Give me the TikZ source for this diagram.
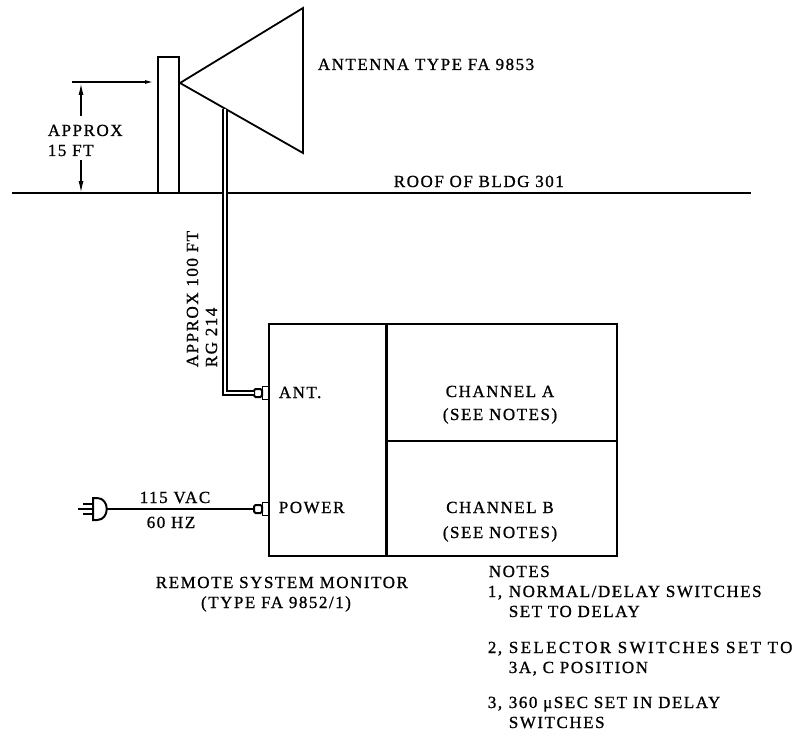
\documentclass[tikz,border=0pt]{standalone}
\usepackage{fontspec}
\setmainfont{Liberation Serif}
\newfontfamily\typ[LetterSpace=9,FakeBold=1]{Liberation Serif}
\usetikzlibrary{arrows.meta}
\begin{document}
\begin{tikzpicture}[x=1pt,y=-1pt,line width=1.7pt,line join=miter,
  lbl/.style={font=\typ\fontsize{17}{20}\selectfont,inner sep=0pt},
  dimarrow/.style={-{Latex[length=12pt,width=5pt]},line width=1.4pt},
  cable/.style={double,double distance=2.4pt,line width=1.5pt},
  jack/.pic={
    \draw[line width=2pt,rounded corners=1.5pt] (-14,-4) rectangle (-6,4);
    \draw[line width=1.8pt] (0,-6.5) -- (-5.5,-6.5) -- (-5.5,6.5) -- (0,6.5);
  }]
\useasboundingbox (0,0) rectangle (806,749);

% roof
\coordinate (roofL) at (12,193);
\coordinate (roofR) at (751,193);
\draw (roofL) -- (roofR);

% post and horn antenna
\coordinate (postBL) at (158,193);
\coordinate (postTL) at (158,57);
\coordinate (postTR) at (179,57);
\coordinate (postBR) at (179,193);
\draw[line width=1.6pt] (postBL) -- (postTL) -- (postTR) -- (postBR);
\draw[line width=2.4pt] ([xshift=-0.6pt]postTL) -- ([xshift=0.6pt]postTR);
\coordinate (apex) at (180,83);
\coordinate (hornT) at (303,8);
\coordinate (hornB) at (303,153);
\draw[line width=1.8pt] (apex) -- (hornT) -- (hornB) -- cycle;

% height dimension
\coordinate (dimL) at (72,82);
\coordinate (dimR) at (153,82);
\draw[-{Latex[length=8pt,width=4pt]},line width=1.2pt] (dimL) -- (dimR);
\coordinate (dimTop) at (81,83);
\coordinate (dimBot) at (81,193);
\coordinate (dimA) at (81,116);
\coordinate (dimB) at (81,160);
\draw[dimarrow] (dimA) -- (dimTop);
\draw[dimarrow] (dimB) -- (dimBot);
\node[lbl,anchor=base west] (approx) at (47,136) {APPROX};
\node[lbl,anchor=base west] (fifteen) at (47,156) {15 FT};

\node[lbl,anchor=base west] (antlbl) at (317,70) {ANTENNA TYPE FA 9853};
\node[lbl,anchor=base west] (rooflbl) at (393,187) {ROOF OF BLDG 301};

% monitor
\node[draw,anchor=north west,minimum width=117pt,minimum height=232pt,inner sep=0pt] (mon) at (268,323) {};
\node[draw,anchor=north west,minimum width=231pt,minimum height=117pt,inner sep=0pt] (chA) at (385,323) {};
\node[draw,anchor=north west,minimum width=231pt,minimum height=115pt,inner sep=0pt] (chB) at (385,440) {};
\draw[line width=3.2pt] (mon.north east) -- (mon.south east);

\node[lbl,anchor=base] (chAa) at (500,397) {CHANNEL A};
\node[lbl,anchor=base] (chAb) at (500,420) {(SEE NOTES)};
\node[lbl,anchor=base] (chBa) at (500,513) {CHANNEL B};
\node[lbl,anchor=base] (chBb) at (500,538) {(SEE NOTES)};

% antenna input
\coordinate (antin) at (268,393);
\pic at (antin) {jack};
\coordinate (antplug) at (254,393);
\coordinate (cabletop) at (225,109);
\draw[cable] (cabletop) |- (antplug);
\node[lbl,anchor=base west] (antt) at (278,398) {ANT.};
\node[lbl,anchor=base west,rotate=90] (cab1) at (198,368) {APPROX 100 FT};
\node[lbl,anchor=base west,rotate=90] (cab2) at (217,368) {RG 214};

% power input
\coordinate (pwrin) at (268,509);
\pic at (pwrin) {jack};
\coordinate (pwrplug) at (254,509);
\node[lbl,anchor=base west] (pwrt) at (278,513) {POWER};
\coordinate (plugback) at (93,509);
\coordinate (plugfront) at (107,509);
\draw[line width=2pt] (93,498) -- (97,498) .. controls (110,498) and (110,520) .. (97,520) -- (93,520) -- cycle;
\draw[line width=2pt] (83,504) -- (plugback |- 0,504);
\draw[line width=2pt] (78,509) -- (plugback);
\draw[line width=2pt] (83,514) -- (plugback |- 0,514);
\draw[line width=1.5pt] (plugfront) -- (pwrplug);
\node[lbl,anchor=base] (vac) at (175,503) {115 VAC};
\node[lbl,anchor=base] (hz) at (171,528) {60 HZ};

\node[lbl,anchor=base west] (rsm1) at (155,588) {REMOTE SYSTEM MONITOR};
\node[lbl,anchor=base] (rsm2) at (276,608) {(TYPE FA 9852/1)};

% notes
\node[lbl,anchor=base west] (notes) at (488,577) {NOTES};
\node[lbl,anchor=base east] (n1) at (503,597) {1,};
\node[lbl,anchor=base west] (n1a) at (508,597) {NORMAL/DELAY SWITCHES};
\node[lbl,anchor=base west] (n1b) at (508,617) {SET TO DELAY};
\node[lbl,anchor=base east] (n2) at (503,653) {2,};
\node[lbl,anchor=base west,font=\typ\fontsize{17}{20}\selectfont\addfontfeature{LetterSpace=14}] (n2a) at (508,653) {SELECTOR SWITCHES SET TO};
\node[lbl,anchor=base west] (n2b) at (508,673) {3A, C POSITION};
\node[lbl,anchor=base east] (n3) at (503,708) {3,};
\node[lbl,anchor=base west] (n3a) at (508,708) {360 μSEC SET IN DELAY};
\node[lbl,anchor=base west] (n3b) at (508,728) {SWITCHES};
\end{tikzpicture}
\end{document}
